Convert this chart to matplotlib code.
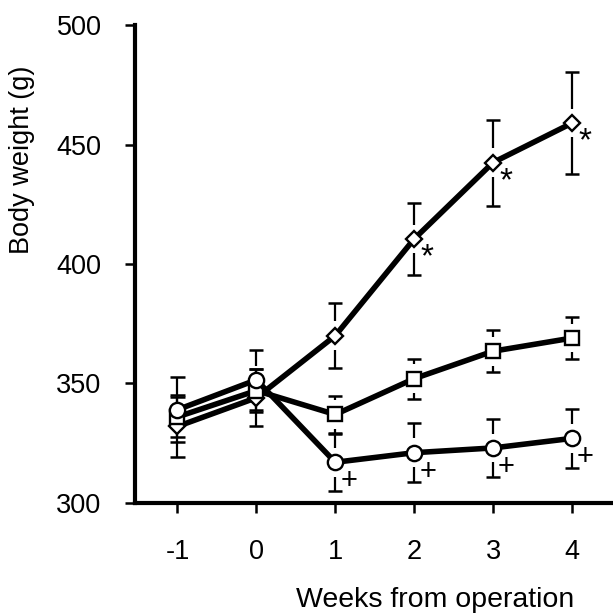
import numpy as np
import matplotlib
matplotlib.use('Agg')
import matplotlib.pyplot as plt

plt.rcParams['font.family'] = ['Liberation Sans', 'DejaVu Sans']

# data
weeks = [-1, 0, 1, 2, 3, 4]
diamond_mean = [332, 344, 370, 410.5, 442.5, 459]
diamond_err = [13, 12, 13.5, 15, 18, 21.5]
square_mean = [336, 347, 337, 352, 363.5, 369]
square_err = [8.5, 9, 7.6, 8.4, 8.8, 8.8]
circle_mean = [339, 351.5, 317, 321, 323, 327]
circle_err = [13.5, 12.5, 12, 12.4, 12, 12.5]
star_weeks = [2, 3, 4]      # diamond series, marked *
plus_weeks = [1, 2, 3, 4]   # circle series, marked +
yticks = [300, 350, 400, 450, 500]

fig = plt.figure(figsize=(6.13, 6.14), dpi=100)
ax = fig.add_axes([0.220, 0.181, 0.780, 0.778])

GAP = 6.0     # error stem stops short of marker
CAPW = 0.09
FS = 19.5

series = [
    (diamond_mean, diamond_err, 'D', 8),
    (square_mean, square_err, 's', 10.5),
    (circle_mean, circle_err, 'o', 11),
]

x = np.array(weeks, dtype=float)
for mean, err, mk, ms in series:
    m = np.array(mean)
    e = np.array(err)
    # error bars
    ax.vlines(x, m + GAP, m + e, color='black', lw=1.6, zorder=1)
    ax.vlines(x, m - e, m - GAP, color='black', lw=1.6, zorder=1)
    ax.hlines(m + e, x - CAPW, x + CAPW, color='black', lw=1.8, zorder=1)
    ax.hlines(m - e, x - CAPW, x + CAPW, color='black', lw=1.8, zorder=1)
    ax.plot(x, m, color='black', lw=4, marker=mk, ms=ms, mfc='white',
            mec='black', mew=1.7, zorder=3)

for w in star_weeks:
    i = weeks.index(w)
    ax.text(w + 0.16, diamond_mean[i] - 8, '*', fontsize=24,
            ha='center', va='center')
for w in plus_weeks:
    i = weeks.index(w)
    ax.text(w + 0.17, circle_mean[i] - 8, '+', fontsize=21,
            ha='center', va='center')

ax.set_xlim(-1.54, 4.52)
ax.set_ylim(300, 500)
ax.set_xticks(weeks)
ax.set_xticklabels([str(w) for w in weeks])
ax.set_yticks(yticks)

for s in ['top', 'right']:
    ax.spines[s].set_visible(False)
for s in ['left', 'bottom']:
    ax.spines[s].set_linewidth(3)

ax.tick_params(axis='both', direction='out', length=7, width=1.8,
               labelsize=FS)
ax.tick_params(axis='x', pad=19)
ax.tick_params(axis='y', pad=17)

ax.set_ylabel('Body weight (g)', fontsize=FS)
ax.yaxis.set_label_coords(-0.209, 0.718)
ax.set_xlabel('Weeks from operation', fontsize=20.5)
ax.xaxis.set_label_coords(0.628, -0.176)

fig.savefig('out.png', dpi=100)
